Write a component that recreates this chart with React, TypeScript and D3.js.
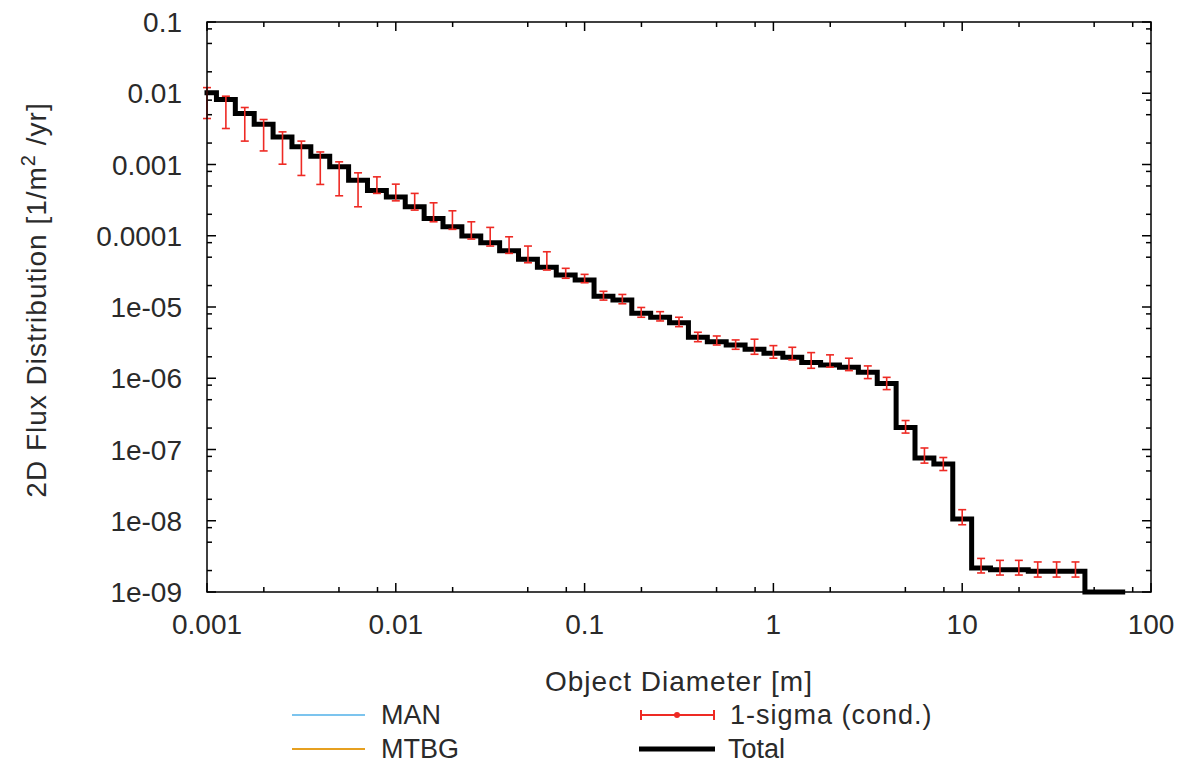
import React from "react";
import * as d3 from "d3";

// Bin centres (object diameter, m)
const diameters = [
  0.001, 0.001259, 0.001585, 0.001995, 0.002512, 0.003162, 0.003981, 0.005012, 0.00631, 0.007943,
  0.01, 0.01259, 0.01585, 0.01995, 0.02512, 0.03162, 0.03981, 0.05012, 0.0631, 0.07943,
  0.1, 0.1259, 0.1585, 0.1995, 0.2512, 0.3162, 0.3981, 0.5012, 0.631, 0.7943,
  1, 1.259, 1.585, 1.995, 2.512, 3.162, 3.981, 5.012, 6.31, 7.943,
  10, 12.59, 15.85, 19.95, 25.12, 31.62, 39.81, 50.12, 63.1,
];

// Total flux per bin (1/m^2/yr)
const total = [
  0.0102, 0.00817, 0.0052, 0.00368, 0.00244, 0.00177, 0.00131, 0.000927, 0.000603, 0.00043,
  0.000349, 0.000255, 0.000175, 0.000134, 9.9e-5, 7.97e-5, 6.16e-5, 4.67e-5, 3.6e-5, 2.81e-5,
  2.39e-5, 1.41e-5, 1.25e-5, 8.16e-6, 7.18e-6, 6.03e-6, 3.76e-6, 3.26e-6, 2.93e-6, 2.55e-6,
  2.24e-6, 1.97e-6, 1.66e-6, 1.54e-6, 1.43e-6, 1.21e-6, 8.41e-7, 2.03e-7, 7.57e-8, 6.24e-8,
  1.06e-8, 2.17e-9, 2.06e-9, 2.06e-9, 1.95e-9, 1.95e-9, 1.95e-9, 1e-9, 1e-9,
];

// 1-sigma (cond.) upper bound
const sigmaHigh = [
  0.012, 0.00909, 0.00631, 0.00428, 0.00287, 0.00213, 0.0015, 0.00109, 0.000764, 0.000671,
  0.00053, 0.000393, 0.00029, 0.000224, 0.000157, 0.000131, 9.67e-5, 7.17e-5, 5.96e-5, 3.49e-5,
  2.87e-5, 1.66e-5, 1.5e-5, 9.85e-6, 8.6e-6, 7.18e-6, 4.42e-6, 3.92e-6, 3.45e-6, 3.53e-6,
  2.87e-6, 2.72e-6, 2.29e-6, 2.13e-6, 1.91e-6, 1.49e-6, 1.03e-6, 2.55e-7, 1.05e-7, 7.72e-8,
  1.43e-8, 2.96e-9, 2.78e-9, 2.78e-9, 2.64e-9, 2.64e-9, 2.64e-9, null, null,
];

// 1-sigma (cond.) lower bound
const sigmaLow = [
  0.00442, 0.0032, 0.00213, 0.00155, 0.00101, 0.000702, 0.000525, 0.000364, 0.000255, 0.000393,
  0.000309, 0.000229, 0.000157, 0.000123, 8.99e-5, 7.17e-5, 5.66e-5, 4.18e-5, 3.3e-5, 2.53e-5,
  2.19e-5, 1.25e-5, 1.11e-5, 7.18e-6, 6.37e-6, 5.3e-6, 3.26e-6, 2.93e-6, 2.55e-6, 2.17e-6,
  1.91e-6, 1.81e-6, 1.38e-6, 1.43e-6, 1.28e-6, 9.89e-7, 6.93e-7, 1.7e-7, 6.44e-8, 5.07e-8,
  8.79e-9, 1.85e-9, 1.73e-9, 1.73e-9, 1.62e-9, 1.62e-9, 1.62e-9, null, null,
];

const xTickValues = [0.001, 0.01, 0.1, 1, 10, 100];
const xTickLabels = ["0.001", "0.01", "0.1", "1", "10", "100"];
const yTickValues = [0.1, 0.01, 0.001, 0.0001, 1e-5, 1e-6, 1e-7, 1e-8, 1e-9];
const yTickLabels = ["0.1", "0.01", "0.001", "0.0001", "1e-05", "1e-06", "1e-07", "1e-08", "1e-09"];
const minorFactors = [2, 5, 8];

const legendItems = ["MAN", "MTBG", "1-sigma (cond.)", "Total"];

const W = 1181;
const H = 763;
const L = 207, R = 1151, T = 22, B = 592;
const FONT = "'Liberation Sans', Arial, Helvetica, sans-serif";
const FS = 28;
const RED = "#ee2a24";
const TXT = "#2a2a2a";

export default function App() {
  const x = d3.scaleLog().domain([1e-3, 100]).range([L, R]);
  const y = d3.scaleLog().domain([1e-9, 0.1]).range([B, T]);
  const half = Math.pow(10, 0.05);

  // step path
  const pts: [number, number][] = [];
  diameters.forEach((d, i) => {
    const lo = Math.max(d / half, 1e-3);
    const hi = d * half;
    pts.push([x(lo), y(total[i])]);
    pts.push([x(hi), y(total[i])]);
  });
  const stepPath = d3.line()(pts) as string;

  const minorX: number[] = [];
  xTickValues.forEach((d) => minorFactors.forEach((f) => { const v = d * f; if (v < 100) minorX.push(v); }));
  const minorY: number[] = [];
  yTickValues.forEach((d) => minorFactors.forEach((f) => { const v = d * f; if (v < 0.1) minorY.push(v); }));

  const MAJ = 9, MIN = 5;

  return (
    <svg width={W} height={H} style={{ position: "absolute", left: 0, top: 0, background: "#fff" }} fontFamily={FONT}>
      <rect x={0} y={0} width={W} height={H} fill="#fff" />
      {/* ticks */}
      <g stroke="#000" strokeWidth={1.5}>
        {xTickValues.map((v, i) => (
          <g key={"xm" + i}>
            <line x1={x(v)} x2={x(v)} y1={B} y2={B - MAJ} />
            <line x1={x(v)} x2={x(v)} y1={T} y2={T + MAJ} />
          </g>
        ))}
        {minorX.map((v, i) => (
          <g key={"xn" + i}>
            <line x1={x(v)} x2={x(v)} y1={B} y2={B - MIN} />
            <line x1={x(v)} x2={x(v)} y1={T} y2={T + MIN} />
          </g>
        ))}
        {yTickValues.map((v, i) => (
          <g key={"ym" + i}>
            <line x1={L} x2={L + MAJ} y1={y(v)} y2={y(v)} />
            <line x1={R} x2={R - MAJ} y1={y(v)} y2={y(v)} />
          </g>
        ))}
        {minorY.map((v, i) => (
          <g key={"yn" + i}>
            <line x1={L} x2={L + MIN} y1={y(v)} y2={y(v)} />
            <line x1={R} x2={R - MIN} y1={y(v)} y2={y(v)} />
          </g>
        ))}
      </g>

      {/* total step line */}
      <path d={stepPath} fill="none" stroke="#000" strokeWidth={5} strokeLinecap="square" strokeLinejoin="miter" />

      {/* error bars */}
      <g stroke={RED} strokeWidth={1.6}>
        {diameters.map((d, i) => {
          const lo = sigmaLow[i], hi = sigmaHigh[i];
          if (lo == null || hi == null) return null;
          const cx = x(d);
          return (
            <g key={"e" + i}>
              <line x1={cx} x2={cx} y1={y(lo)} y2={y(hi)} />
              <line x1={cx - 4} x2={cx + 4} y1={y(lo)} y2={y(lo)} />
              <line x1={cx - 4} x2={cx + 4} y1={y(hi)} y2={y(hi)} />
            </g>
          );
        })}
      </g>

      {/* frame */}
      <rect x={L} y={T} width={R - L} height={B - T} fill="none" stroke="#000" strokeWidth={1.5} />

      {/* tick labels */}
      <g fontSize={FS} fill={TXT}>
        {xTickValues.map((v, i) => (
          <text key={"xl" + i} x={x(v)} y={634} textAnchor="middle">{xTickLabels[i]}</text>
        ))}
        {yTickValues.map((v, i) => (
          <text key={"yl" + i} x={182} y={y(v) + 10} textAnchor="end">{yTickLabels[i]}</text>
        ))}
      </g>

      {/* axis titles */}
      <text x={(L + R) / 2} y={691} textAnchor="middle" fontSize={FS} fill={TXT} letterSpacing={1}>Object Diameter [m]</text>
      <text transform="translate(46,300) rotate(-90)" textAnchor="middle" fontSize={FS} fill={TXT} letterSpacing={1}>
        2D Flux Distribution [1/m<tspan fontSize={20} dy={-11}>2</tspan><tspan dy={11}> /yr]</tspan>
      </text>

      {/* legend */}
      <g fontSize={27} fill={TXT}>
        <line x1={292} x2={365} y1={715} y2={715} stroke="#7cc4ee" strokeWidth={2} />
        <text x={381} y={724}>{legendItems[0]}</text>
        <line x1={292} x2={365} y1={749} y2={749} stroke="#e6a020" strokeWidth={2} />
        <text x={381} y={758}>{legendItems[1]}</text>
        <g stroke={RED} strokeWidth={2}>
          <line x1={641} x2={714} y1={715} y2={715} />
          <line x1={641} x2={641} y1={710} y2={720} />
          <line x1={714} x2={714} y1={710} y2={720} />
        </g>
        <circle cx={677} cy={715} r={3} fill={RED} />
        <text x={730} y={724} letterSpacing={1}>{legendItems[2]}</text>
        <line x1={639} x2={715} y1={749} y2={749} stroke="#000" strokeWidth={5} />
        <text x={728} y={758}>{legendItems[3]}</text>
      </g>
    </svg>
  );
}
